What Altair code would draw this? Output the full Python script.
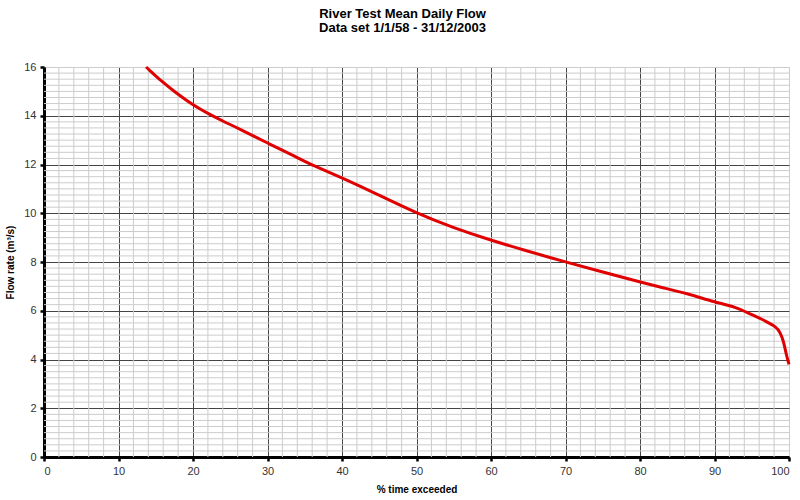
import altair as alt
import pandas as pd

# Flow duration curve values
pct_exceeded = [13.7, 15.9, 17.3, 20.0, 22.2, 24.0, 26.2, 30.0, 33.9, 36.1, 40.0, 44.6,
                50.0, 54.9, 60.0, 64.3, 70.0, 75.0, 80.0, 83.0, 86.4, 90.0, 92.9, 94.7,
                96.9, 98.3, 98.8, 99.3, 99.6, 100.0]
flow_rate = [16.0, 15.38, 15.04, 14.43, 14.06, 13.78, 13.47, 12.88, 12.3, 11.96, 11.46, 10.8,
             10.0, 9.41, 8.89, 8.5, 8.0, 7.59, 7.18, 6.95, 6.70, 6.36, 6.15, 5.88,
             5.58, 5.33, 5.13, 4.72, 4.24, 3.8]

x_major = [0, 10, 20, 30, 40, 50, 60, 70, 80, 90, 100]
y_major = [0, 2, 4, 6, 8, 10, 12, 14, 16]
x_minor = [i * 2 for i in range(1, 50) if (i * 2) % 10 != 0]
y_minor = [i * 0.25 for i in range(1, 64) if i % 8 != 0]

FONT = "Liberation Sans"

df = pd.DataFrame({"pct": pct_exceeded, "flow": flow_rate})
xs = alt.Scale(domain=[0, 100], nice=False, zero=False)
ys = alt.Scale(domain=[0, 16], nice=False, zero=False)

common = dict(
    grid=True, gridWidth=1,
    domainColor="black", domainWidth=3,
    tickColor="black", tickWidth=2.5, tickSize=4,
    labelFont=FONT, labelFontSize=11, labelColor="#333333", labelPadding=4,
    titleFont=FONT, titleFontSize=10, titleFontWeight="bold", titleColor="black",
    titlePadding=8,
)
x_axis = alt.Axis(
    values=x_major, title="% time exceeded",
    gridColor=alt.condition("datum.value == 100", alt.value("#cccccc"), alt.value("#444444")),
    **common,
)
y_axis = alt.Axis(
    values=y_major, title="Flow rate (m³/s)",
    gridColor=alt.condition("datum.value == 16", alt.value("#cccccc"), alt.value("#444444")),
    **common,
)

minor_v = alt.Chart(pd.DataFrame({"v": x_minor})).mark_rule(
    color="#cccccc", strokeWidth=1
).encode(x=alt.X("v:Q", scale=xs, axis=x_axis, title="% time exceeded"))

minor_h = alt.Chart(pd.DataFrame({"v": y_minor})).mark_rule(
    color="#cccccc", strokeWidth=1
).encode(y=alt.Y("v:Q", scale=ys, axis=y_axis, title="Flow rate (m³/s)"))

line = alt.Chart(df).mark_line(
    color="#e00000", strokeWidth=3, interpolate="basis"
).encode(
    x=alt.X("pct:Q", scale=xs, axis=x_axis, title="% time exceeded"),
    y=alt.Y("flow:Q", scale=ys, axis=y_axis, title="Flow rate (m³/s)"),
)

chart = alt.layer(minor_v, minor_h, line).properties(
    width=745,
    height=390,
    autosize=alt.AutoSizeParams(type="none"),
    padding={"left": 44, "top": 67, "right": 11, "bottom": 43},
    title=alt.TitleParams(
        text=["River Test Mean Daily Flow", "Data set 1/1/58 - 31/12/2003"],
        font=FONT, fontSize=13, fontWeight="bold", color="black",
        anchor="middle", lineHeight=14, offset=26, dx=-14,
    ),
).configure_view(stroke=None).configure(background="white")

chart.save("out.html", embed_options={"renderer": "svg", "actions": False})
